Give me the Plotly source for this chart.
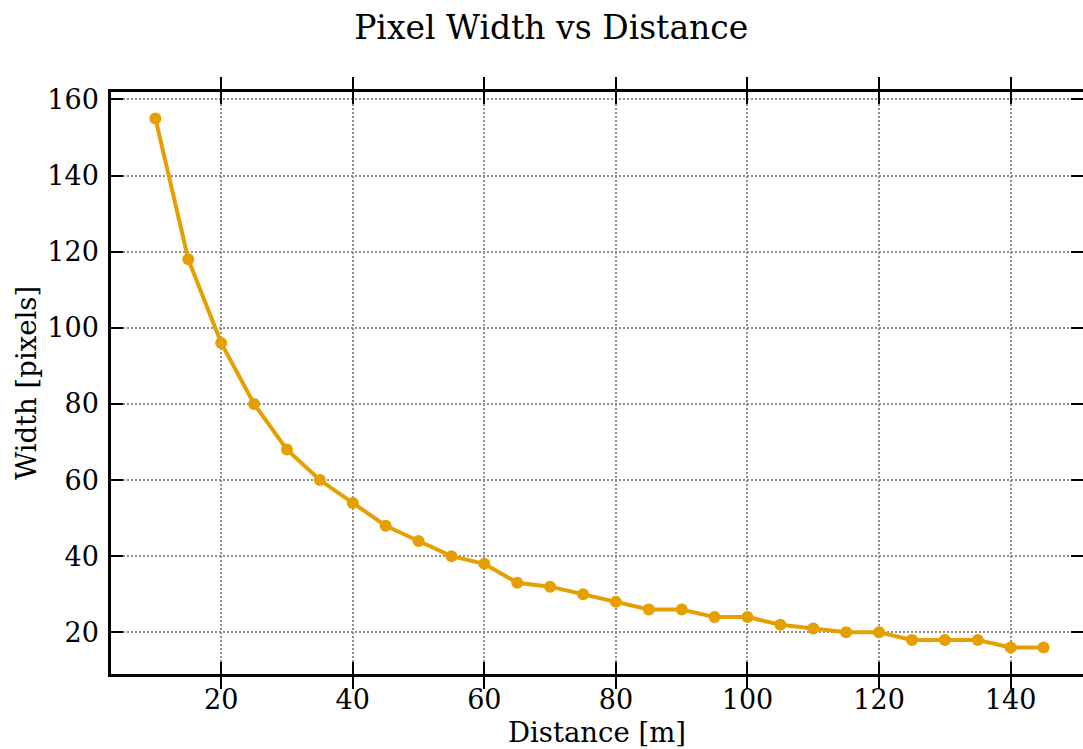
import plotly.graph_objects as go

distance_m = [10, 15, 20, 25, 30, 35, 40, 45, 50, 55, 60, 65, 70, 75, 80,
              85, 90, 95, 100, 105, 110, 115, 120, 125, 130, 135, 140, 145]
width_px = [155, 118, 96, 80, 68, 60, 54, 48, 44, 40, 38, 33, 32, 30, 28,
            26, 26, 24, 24, 22, 21, 20, 20, 18, 18, 18, 16, 16]

title_text = "Pixel Width vs Distance"
x_label = "Distance [m]"
y_label = "Width [pixels]"

FONT = "DejaVu Serif"
LINE_COLOR = "#E69F00"
Y_RANGE = [9.05, 161.95]

fig = go.Figure()
fig.add_trace(go.Scatter(
    x=distance_m, y=width_px, mode="lines+markers",
    line=dict(color=LINE_COLOR, width=4),
    marker=dict(color=LINE_COLOR, size=12),
    showlegend=False,
))
# empty trace so that the right-hand tick axis is created
fig.add_trace(go.Scatter(x=[], y=[], yaxis="y2", showlegend=False, hoverinfo="skip"))

tick_style = dict(ticks="inside", ticklen=12, tickwidth=2, tickcolor="black")
grid_style = dict(showgrid=True, gridcolor="#8f8f8f", gridwidth=1.5,
                  griddash="1.5px,2.5px")
tick_font = dict(family=FONT, size=27, color="black")

fig.update_layout(
    width=1083, height=749,
    paper_bgcolor="white", plot_bgcolor="white",
    margin=dict(l=111, r=0, t=92, b=75),
    font=dict(family=FONT, color="black"),
    title=dict(text=title_text, x=0.509, xref="container", xanchor="center",
               y=1 - 27 / 749, yref="container", yanchor="middle",
               font=dict(family=FONT, size=33, color="black")),
    xaxis=dict(range=[3.25, 151.0], tick0=20, dtick=20,
               showline=True, linecolor="black", linewidth=2.5, mirror="allticks",
               zeroline=False, tickfont=tick_font,
               title=dict(text=x_label, font=dict(family=FONT, size=27.5), standoff=9),
               ticklabelstandoff=0,
               **tick_style, **grid_style),
    yaxis=dict(range=Y_RANGE, tick0=20, dtick=20,
               showline=True, linecolor="black", linewidth=2.5, mirror=False,
               zeroline=False, tickfont=tick_font,
               title=dict(text=y_label, font=dict(family=FONT, size=27.5), standoff=3),
               ticklabelstandoff=4,
               **tick_style, **grid_style),
    # right-hand tick marks only (the right spine lies past the picture's edge)
    yaxis2=dict(range=Y_RANGE, tick0=20, dtick=20, overlaying="y", side="right",
                anchor="x", showline=False, showgrid=False, zeroline=False,
                showticklabels=False, **tick_style),
)

# remove the browser's default 8px body margin so the figure fills the window exactly
fig.write_html(
    "out.html",
    config={"displayModeBar": False},
    post_script="document.body.style.margin='0';document.body.style.overflow='hidden';",
)
